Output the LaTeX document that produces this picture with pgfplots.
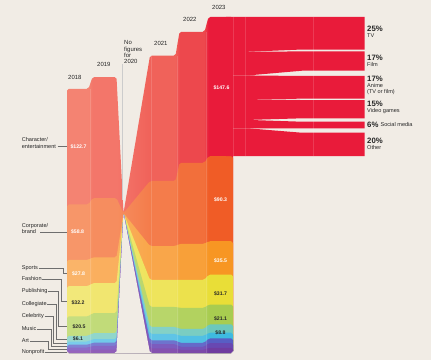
\documentclass[border=0pt]{standalone}
\usepackage{pgfplots}
\pgfplotsset{compat=1.18}
\usepackage{pgfplotstable}
\usepackage{fontspec}
\setmainfont{Liberation Sans}

\definecolor{bg}{RGB}{241,236,229}
\definecolor{txt}{RGB}{38,38,38}
\definecolor{lead}{RGB}{110,110,110}
\definecolor{crim}{RGB}{233,27,58}

\definecolor{cha18}{RGB}{244,131,114}
\definecolor{cha19}{RGB}{243,118,106}
\definecolor{cha21}{RGB}{240,98,90}
\definecolor{cha22}{RGB}{237,72,77}
\definecolor{cha23}{RGB}{233,27,58}

\newcommand\cat[3]{%
  \definecolor{#118}{RGB}{#2}\definecolor{#123}{RGB}{#3}%
  \colorlet{#119}{#123!15!#118}\colorlet{#121}{#123!45!#118}\colorlet{#122}{#123!68!#118}}
\cat{cor}{247,150,105}{240,92,38}
\cat{spo}{250,180,105}{247,150,35}
\cat{fas}{242,232,122}{233,222,55}
\cat{pub}{198,222,128}{168,204,80}
\cat{col}{152,216,206}{108,200,188}
\cat{cel}{122,205,235}{62,186,224}
\cat{mus}{128,132,212}{88,94,196}
\cat{art}{140,108,200}{104,72,178}
\cat{np}{150,100,188}{112,60,160}

\newcommand\mkshade[1]{\pgfdeclarehorizontalshading{#1S}{100bp}{color(0bp)=(#118); color(31.5bp)=(#118); color(32.7bp)=(#119); color(39.9bp)=(#119); color(50bp)=(#121); color(57.7bp)=(#121); color(58.9bp)=(#122); color(66.4bp)=(#122); color(67.6bp)=(#123); color(100bp)=(#123)}}
\mkshade{cha}\mkshade{cor}\mkshade{spo}\mkshade{fas}\mkshade{pub}
\mkshade{col}\mkshade{cel}\mkshade{mus}\mkshade{art}\mkshade{np}

% x = horizontal position of each year column (px), values in $ billions
\pgfplotstableread{
x     off   cha   cor  spo  fas  pub  col  cel  mus  art  np
67    0     122.7 58.8 27.8 32.2 20.5 6.1  3.4  3.0  3.0  2.8
88.5  0     122.7 58.8 27.8 32.2 20.5 6.1  3.4  3.0  3.0  2.8
92.5  0     128.4 62.9 27.3 31.8 21.3 6.3  3.8  3.5  4.0  3.5
116.5 0     128.4 62.9 27.3 31.8 21.3 6.3  3.8  3.5  4.0  3.5
123.5 148.5 0     0    0    0    0    0    0    0    0    0
150   0     133.0 69.0 36.0 28.6 21.2 7.4  6.8  4.0  4.5  5.0
175.5 0     133.0 69.0 36.0 28.6 21.2 7.4  6.8  4.0  4.5  5.0
179.5 0     139.0 86.0 38.2 29.7 22.3 7.4  7.4  4.2  3.2  3.4
204.5 0     139.0 86.0 38.2 29.7 22.3 7.4  7.4  4.2  3.2  3.4
208.5 0     147.6 90.3 35.5 31.7 21.1 8.8  6.0  5.0  5.0  5.5
233   0     147.6 90.3 35.5 31.7 21.1 8.8  6.0  5.0  5.0  5.5
}\stream

\tikzset{
  band/.style={draw=none, shade, shading=#1S, shading angle=0, rounded corners=1.8pt},
  lab/.style={font=\fontsize{5.6}{6.6}\selectfont, text=txt, inner sep=0.6bp, anchor=west, align=left},
  yr/.style={font=\fontsize{6}{6.3}\selectfont, text=txt, inner sep=0pt, anchor=west, align=left},
  val/.style={font=\fontsize{5.2}{6}\selectfont\bfseries, inner sep=0pt},
  pct/.style={font=\fontsize{7.8}{8}\selectfont\bfseries, text=txt, inner sep=0pt, anchor=west},
  nm/.style={font=\fontsize{5.6}{6.4}\selectfont, text=txt, inner sep=0pt, anchor=west},
  leader/.style={draw=lead, line width=0.35bp},
  sep/.style={white, opacity=0.14, line width=0.5bp}
}

\begin{document}
\begin{tikzpicture}
\fill[bg] (0,0) rectangle (431bp,360bp);
\begin{axis}[
  at={(0bp,7bp)}, anchor=south west,
  scale only axis, width=431bp, height=353bp,
  xmin=0, xmax=431, ymin=0, ymax=374.536,
  hide axis, clip=false
]
\addplot[band=cha] table[x=x, y expr=\thisrow{off}+\thisrow{cha}+\thisrow{cor}+\thisrow{spo}+\thisrow{fas}+\thisrow{pub}+\thisrow{col}+\thisrow{cel}+\thisrow{mus}+\thisrow{art}+\thisrow{np}]{\stream} \closedcycle;
\addplot[band=cor] table[x=x, y expr=\thisrow{off}+\thisrow{cor}+\thisrow{spo}+\thisrow{fas}+\thisrow{pub}+\thisrow{col}+\thisrow{cel}+\thisrow{mus}+\thisrow{art}+\thisrow{np}]{\stream} \closedcycle;
\addplot[band=spo] table[x=x, y expr=\thisrow{off}+\thisrow{spo}+\thisrow{fas}+\thisrow{pub}+\thisrow{col}+\thisrow{cel}+\thisrow{mus}+\thisrow{art}+\thisrow{np}]{\stream} \closedcycle;
\addplot[band=fas] table[x=x, y expr=\thisrow{off}+\thisrow{fas}+\thisrow{pub}+\thisrow{col}+\thisrow{cel}+\thisrow{mus}+\thisrow{art}+\thisrow{np}]{\stream} \closedcycle;
\addplot[band=pub] table[x=x, y expr=\thisrow{off}+\thisrow{pub}+\thisrow{col}+\thisrow{cel}+\thisrow{mus}+\thisrow{art}+\thisrow{np}]{\stream} \closedcycle;
\addplot[band=col] table[x=x, y expr=\thisrow{off}+\thisrow{col}+\thisrow{cel}+\thisrow{mus}+\thisrow{art}+\thisrow{np}]{\stream} \closedcycle;
\addplot[band=cel] table[x=x, y expr=\thisrow{off}+\thisrow{cel}+\thisrow{mus}+\thisrow{art}+\thisrow{np}]{\stream} \closedcycle;
\addplot[band=mus] table[x=x, y expr=\thisrow{off}+\thisrow{mus}+\thisrow{art}+\thisrow{np}]{\stream} \closedcycle;
\addplot[band=art] table[x=x, y expr=\thisrow{off}+\thisrow{art}+\thisrow{np}]{\stream} \closedcycle;
\addplot[band=np] table[x=x, y expr=\thisrow{off}+\thisrow{np}]{\stream} \closedcycle;
% gap beneath the 2020 pinch
\addplot[draw=none, fill=bg, rounded corners=1.8pt] table[x=x, y=off]{\stream} \closedcycle;

% 2023 character/entertainment split (share of $147.6B)
\addplot[draw=none, fill=crim] coordinates {(226,356.5) (248,356.5) (302,356.5) (364.5,356.5) (364.5,322.0) (302,322.0) (248,319.6) (226,319.6)};
\addplot[draw=none, fill=crim] coordinates {(226,319.6) (248,319.6) (302,320.0) (364.5,320.0) (364.5,299.5) (302,299.5) (248,294.5) (226,294.5)};
\addplot[draw=none, fill=crim] coordinates {(226,294.5) (248,294.5) (302,293.9) (364.5,293.9) (364.5,269.8) (302,269.8) (248,269.4) (226,269.4)};
\addplot[draw=none, fill=crim] coordinates {(226,269.4) (248,269.4) (302,268.4) (364.5,268.4) (364.5,249.0) (302,249.0) (248,247.3) (226,247.3)};
\addplot[draw=none, fill=crim] coordinates {(226,247.3) (248,247.3) (302,245.4) (364.5,245.4) (364.5,238.4) (302,238.4) (248,238.4) (226,238.4)};
\addplot[draw=none, fill=crim] coordinates {(226,238.4) (248,238.4) (302,233.7) (364.5,233.7) (364.5,208.9) (302,208.9) (248,208.9) (226,208.9)};

% faint column separators
\addplot[sep] coordinates {(90.5,0.5) (90.5,280)};
\addplot[sep] coordinates {(151.5,0.5) (151.5,315)};
\addplot[sep] coordinates {(177.5,0.5) (177.5,315)};
\addplot[sep] coordinates {(206.5,0.5) (206.5,340.5)};
\addplot[sep] coordinates {(233,209) (233,356.2)};
\addplot[sep] coordinates {(245,209) (245,356.2)};
\addplot[sep] coordinates {(313,209) (313,356.2)};
\end{axis}

\begin{scope}[x=1bp, y=-1bp, yshift=360bp]
% year labels
\node[yr] at (68,77) {2018};
\node[yr] at (97,64) {2019};
\node[yr, anchor=north west] at (124,40.5) {No\\figures\\for\\2020};
\draw[lead!35, line width=0.3bp] (122.3,64) -- (122.3,200);
\node[yr] at (154,43.7) {2021};
\node[yr] at (183,19.3) {2022};
\node[yr] at (212,7.3) {2023};

% category labels and leaders
\node[lab, anchor=west] (ce) at (21,143) {Character/\\entertainment};
\draw[leader] (57.5,146.3) -- (67,146.3);
\node[lab] (cb) at (21,228.3) {Corporate/\\brand};
\draw[leader] (40,231.8) -- (67,231.8);
\node[lab] (s1) at (21,268) {Sports};
\draw[leader] (s1.east) -| (63.5,273.1) -- (67,273.1);
\node[lab] (s2) at (21,279) {Fashion};
\draw[leader] (s2.east) -| (61,301.4) -- (67,301.4);
\node[lab] (s3) at (21,291.2) {Publishing};
\draw[leader] (s3.east) -| (58.5,326.3) -- (67,326.3);
\node[lab] (s4) at (21,304) {Collegiate};
\draw[leader] (s4.east) -| (56,338.8) -- (67,338.8);
\node[lab] (s5) at (21,316.5) {Celebrity};
\draw[leader] (s5.east) -| (53.5,343.2) -- (67,343.2);
\node[lab] (s6) at (21,328.7) {Music};
\draw[leader] (s6.east) -| (51,346.2) -- (67,346.2);
\node[lab] (s7) at (21,340.7) {Art};
\draw[leader] (s7.east) -| (48.5,349) -- (67,349);
\node[lab] (s8) at (21,352) {Nonprofit};
\draw[leader] (s8.east) -- (67,352);

% values 2018
\node[val, white] at (78.5,146.3) {\$122.7};
\node[val, white] at (77.5,231.8) {\$58.8};
\node[val, white] at (78.5,274) {\$27.8};
\node[val, txt] at (78,302.3) {\$32.2};
\node[val, txt] at (79,326.3) {\$20.5};
\node[val, txt] at (78,339) {\$6.1};
% values 2023
\node[val, white] at (221.5,88) {\$147.6};
\node[val, white] at (220.5,200) {\$90.3};
\node[val, white] at (220.5,260.7) {\$35.5};
\node[val, txt] at (220.5,294) {\$31.7};
\node[val, txt] at (220.5,319) {\$21.1};
\node[val, txt] at (220.5,332.7) {\$8.8};

% split labels
\node[pct] at (367,29) {25\%};
\node[nm] at (367,35.7) {TV};
\node[pct] at (367,58) {17\%};
\node[nm] at (367,64.7) {Film};
\node[pct] at (367,79) {17\%};
\node[nm, align=left, anchor=north west] at (367,83.3) {Anime\\(TV or film)};
\node[pct] at (367,104) {15\%};
\node[nm] at (367,111) {Video games};
\node[pct] (sm) at (367,125) {6\%};
\node[nm] at ([xshift=1.8bp]sm.east) {Social media};
\node[pct] at (367,141) {20\%};
\node[nm] at (367,147.7) {Other};
\end{scope}
\end{tikzpicture}
\end{document}
